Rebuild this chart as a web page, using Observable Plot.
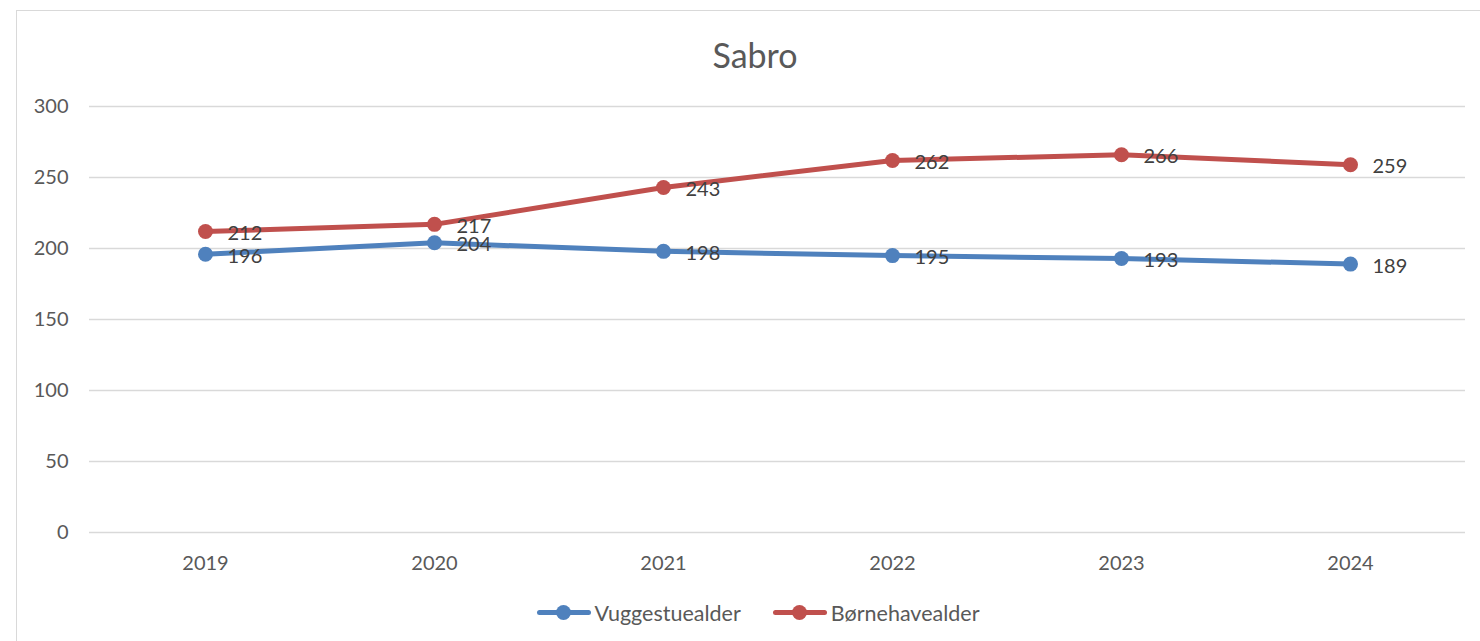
<!DOCTYPE html>
<html><head><meta charset="utf-8">
<script src="https://cdn.jsdelivr.net/npm/d3@7"></script>
<script src="https://cdn.jsdelivr.net/npm/@observablehq/plot@0.6"></script>
<style>
body{margin:0;background:#fff;font-family:Lato,"Open Sans",sans-serif;overflow:hidden;width:1480px;height:641px;position:relative;}
#frame{position:absolute;left:16px;top:10px;width:1500px;height:700px;border-left:1.5px solid #d9d9d9;border-top:1.5px solid #d9d9d9;}
#title{position:absolute;left:0;width:1510px;top:35px;text-align:center;font-size:34px;color:#595959;line-height:40px;}
#chart{position:absolute;left:0;top:80px;}
#legend{position:absolute;left:0;width:1516px;top:599px;text-align:center;font-size:21.5px;color:#595959;line-height:26px;}
.item{display:inline-flex;align-items:center;margin:0 16px;}
.sw{position:relative;width:54px;height:15px;margin-right:4px;}
.sw .ln{position:absolute;left:0;right:0;top:5px;height:5px;border-radius:2.5px;}
.sw .dt{position:absolute;left:19px;top:0;width:15px;height:15px;border-radius:50%;}
</style>
</head><body>
<div id="frame"></div>
<div id="title">Sabro</div>
<div id="chart"></div>
<div id="legend"></div>
<script>
const title = "Sabro";
const years = ["2019","2020","2021","2022","2023","2024"];
const seriesNames = ["Vuggestuealder","Børnehavealder"];
const vuggestue = [196,204,198,195,193,189];
const bornehave = [212,217,243,262,266,259];
const yTicks = [0,50,100,150,200,250,300];
const colors = ["#4f81bd","#c0504d"];

const data = [];
years.forEach((y,i)=>{
  data.push({year:y, series:seriesNames[0], value:vuggestue[i]});
  data.push({year:y, series:seriesNames[1], value:bornehave[i]});
});

const chart = Plot.plot({
  width:1480, height:500,
  marginTop:26, marginBottom:48, marginLeft:89, marginRight:15,
  style:{fontFamily:'Lato,"Open Sans",sans-serif', fontSize:"20px", color:"#595959", background:"transparent", overflow:"visible"},
  x:{type:"point", domain:years, padding:0.5, label:null},
  y:{domain:[0,300], label:null},
  color:{domain:seriesNames, range:colors},
  marks:[
    Plot.gridY(yTicks,{stroke:"#d9d9d9", strokeOpacity:1, strokeWidth:1.5}),
    Plot.axisY(yTicks,{tickSize:0, tickPadding:21, fontSize:20, label:null}),
    Plot.axisX({tickSize:0, tickPadding:23, fontSize:20, label:null}),
    Plot.line(data,{x:"year", y:"value", z:"series", stroke:"series", strokeWidth:5}),
    Plot.dot(data,{x:"year", y:"value", fill:"series", r:7.5}),
    Plot.text(data,{x:"year", y:"value", text:d=>String(d.value), textAnchor:"start", dx:22, dy:2, fill:"#404040", fontSize:20})
  ]
});
document.getElementById("chart").appendChild(chart);
document.getElementById("title").textContent = title;

const leg = document.getElementById("legend");
seriesNames.forEach((n,i)=>{
  const it = document.createElement("span"); it.className="item";
  it.innerHTML = `<span class="sw"><span class="ln" style="background:${colors[i]}"></span><span class="dt" style="background:${colors[i]}"></span></span><span>${n}</span>`;
  leg.appendChild(it);
});
</script>
</body></html>
